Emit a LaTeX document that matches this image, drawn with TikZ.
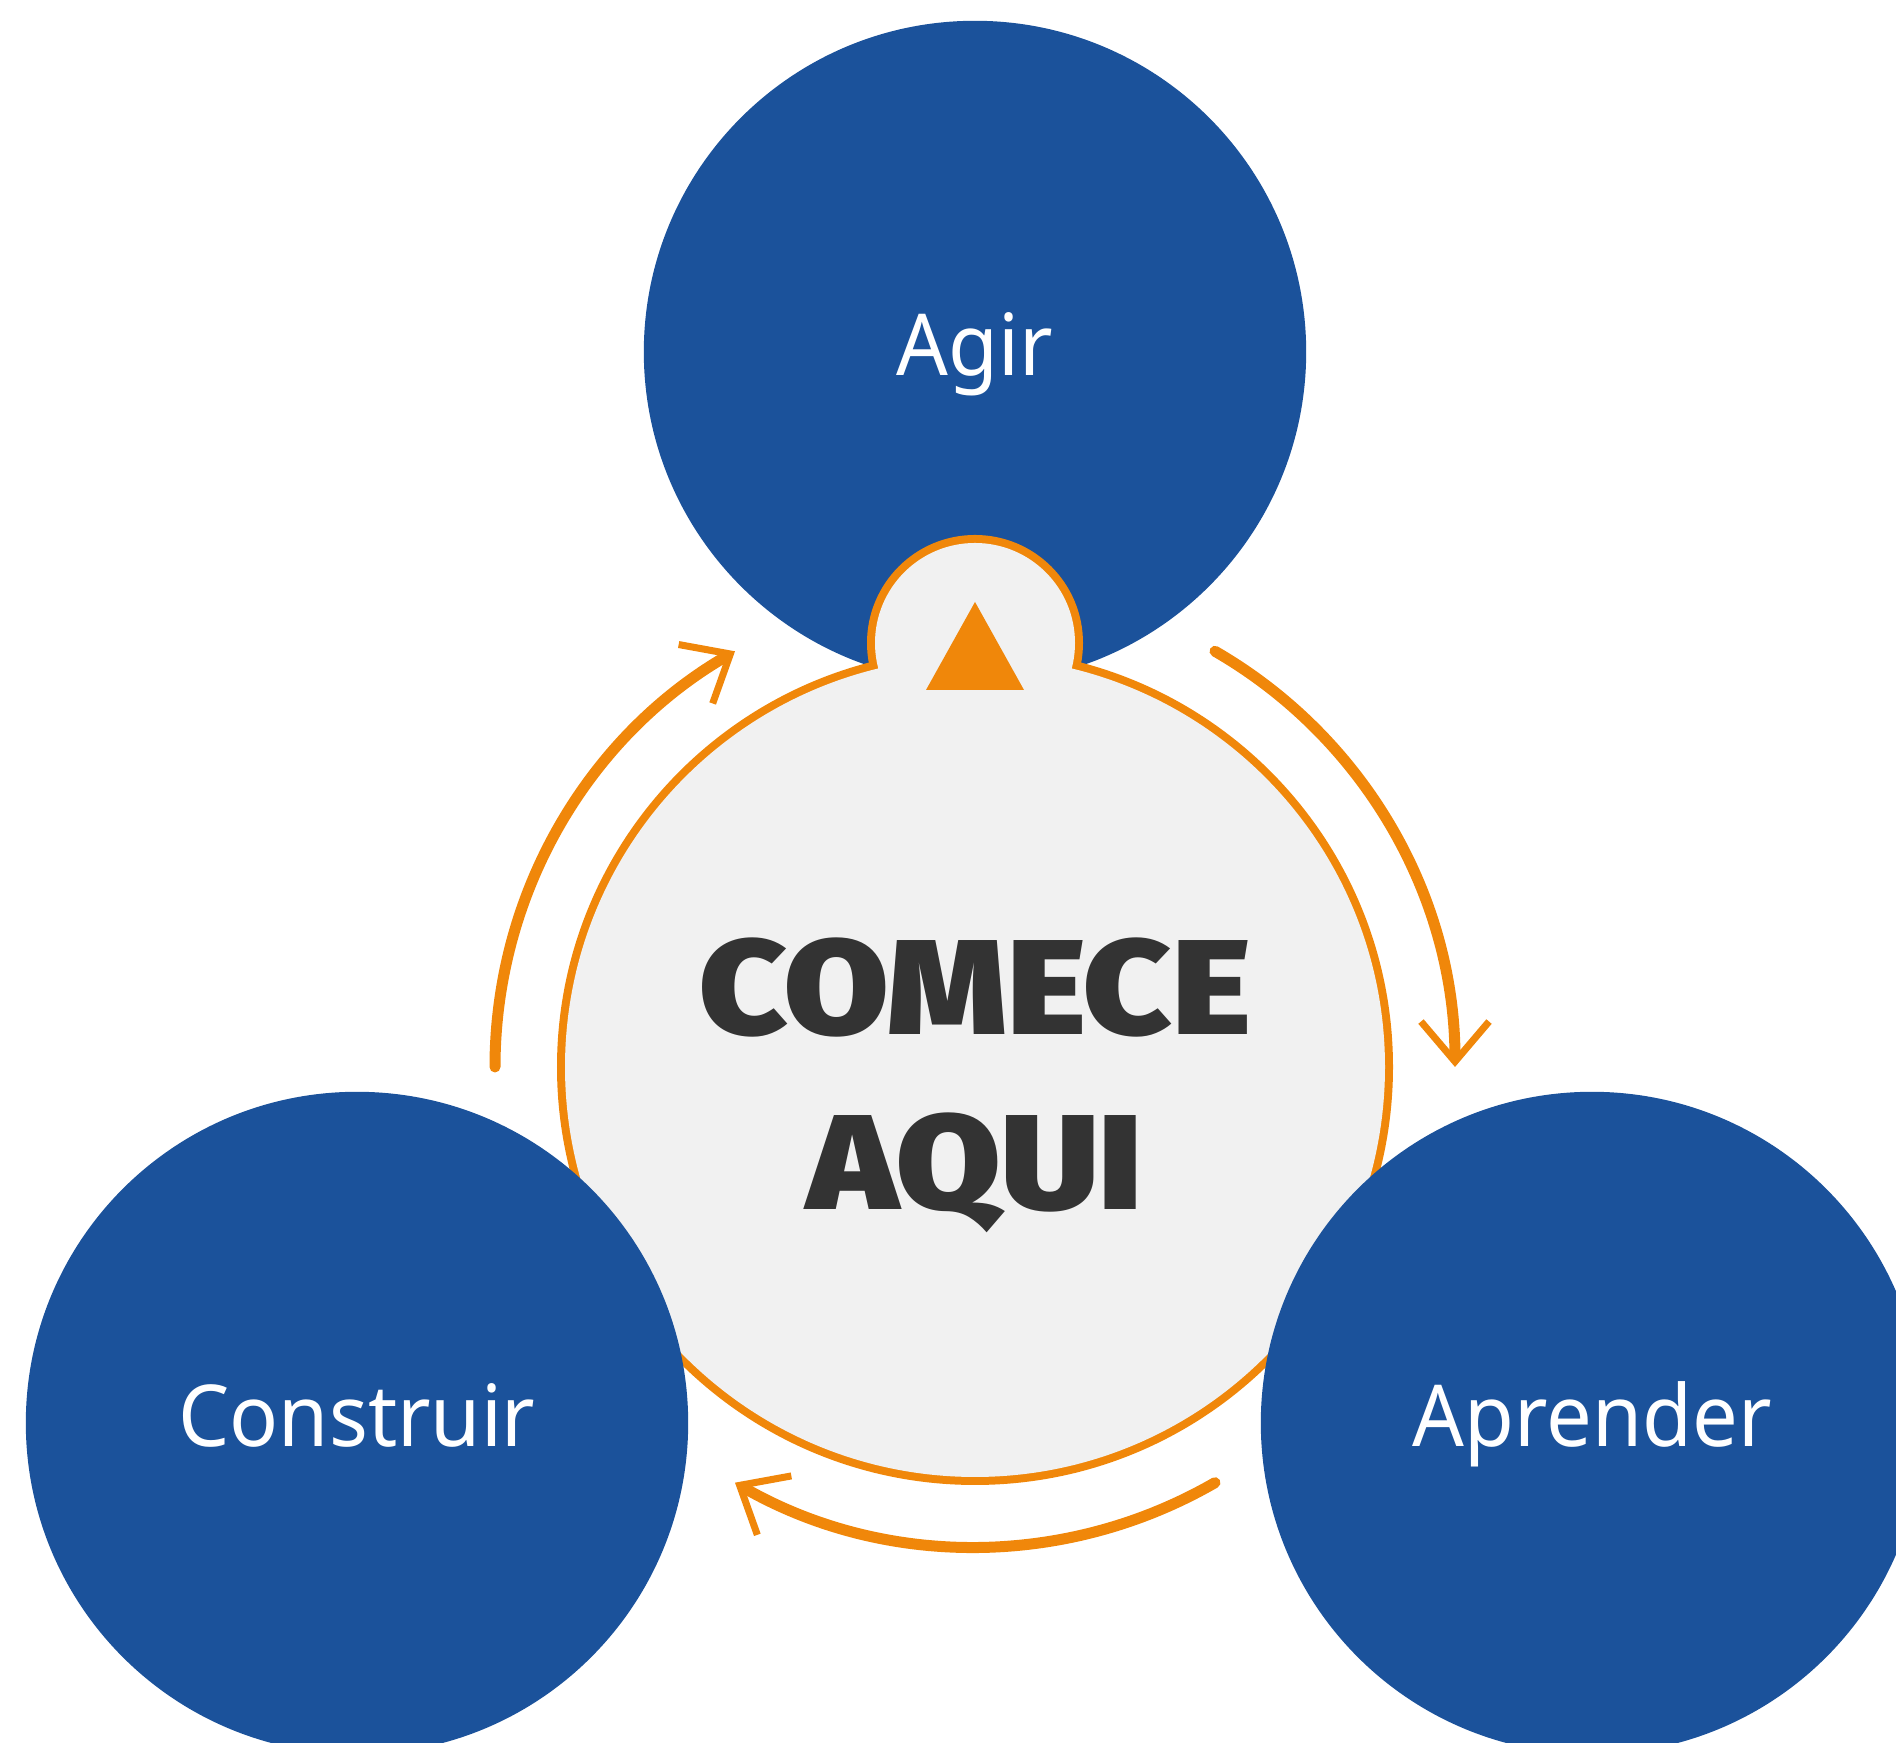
\documentclass[tikz,border=0pt]{standalone}
\usepackage{fontspec}
\setmainfont{Noto Sans}[FakeStretch=0.95]
\newfontfamily\heavyfont{Fira Sans Black}[FakeStretch=1.12]
\usetikzlibrary{arrows.meta}
\definecolor{stageblue}{HTML}{1B529B}
\definecolor{cycleorange}{HTML}{F0870A}
\definecolor{hubgray}{HTML}{F1F1F1}
\definecolor{inkgray}{HTML}{333333}
\tikzset{
    %Define standard arrow tip
    >={Straight Barb[length=0.4cm,width=0.68cm,line width=0.07cm]},
    %Define style for the three stages
    stage/.style={
           circle,
           fill=stageblue,
           minimum size=6.62cm,
           inner sep=0pt,
           text=white,
           font=\fontsize{24.3}{28}\selectfont,
           text height=0.47cm,
           text depth=0pt,
           },
    %Define style for the start disc
    hubrim/.style={
           draw=cycleorange,
           line width=0.16cm,
           },
    hubtext/.style={
           anchor=base,
           text=inkgray,
           font=\heavyfont\fontsize{38.4}{48}\selectfont,
           },
    % Define arrow style
    pil/.style={
           ->,
           draw=cycleorange,
           line width=0.11cm,
           line cap=round,}
}

\begin{document}
\begin{tikzpicture}[x=0.01cm,y=0.01cm]
\useasboundingbox (0,0) rectangle (1896,1743);
\clip (0,0) rectangle (1896,1743);
\node[stage](agir) at (975,1391){Agir};
% start disc with its bump
\coordinate (hubc) at (975,676);
\coordinate (bumpc) at (975,1100);
\draw[hubrim] (hubc) circle (410);
\draw[hubrim] (bumpc) circle (100);
\fill[hubgray] (hubc) circle (410) (bumpc) circle (100);
\fill[cycleorange] (975,1141) -- (926,1053) -- (1024,1053) -- cycle;
\node[hubtext](comece) at (975,708){COMECE};
\node[hubtext](aqui) at (975,533){AQUI};
\node[stage](construir) at (357,320){Construir};
\node[stage](aprender) at (1592,320){Aprender};
\foreach \s in {180,60,-60}
    \draw[pil] ([shift={(\s:480)}]hubc) arc[start angle=\s, end angle=\s-60, radius=480];
\end{tikzpicture}
\end{document}
